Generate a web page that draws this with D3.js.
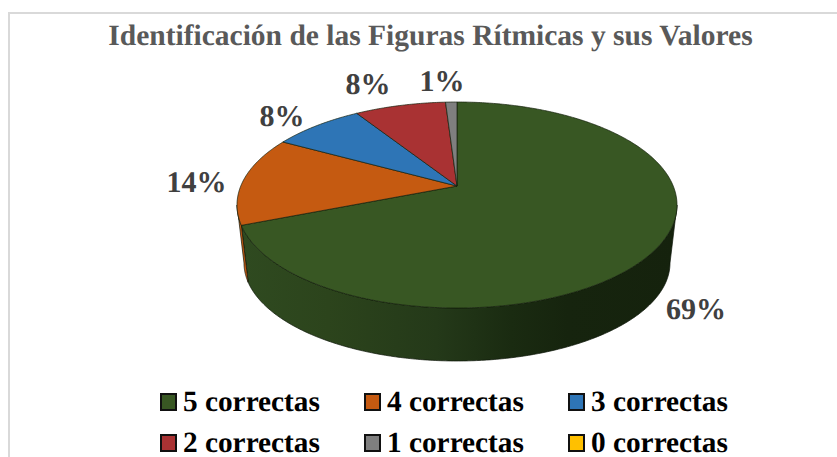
<!DOCTYPE html>
<html>
<head>
<meta charset="utf-8">
<script src="https://cdnjs.cloudflare.com/ajax/libs/d3/7.8.5/d3.min.js"></script>
<style>
html,body{margin:0;padding:0;background:#fff;overflow:hidden}
svg{display:block}
text{font-family:"Liberation Serif",serif;font-weight:bold;text-rendering:geometricPrecision}
</style>
</head>
<body>
<svg id="c" width="837" height="457"></svg>
<script>
const categories = ["5 correctas","4 correctas","3 correctas","2 correctas","1 correctas","0 correctas"];
const values = [69,14,8,8,1,0];
const labels = ["69%","14%","8%","8%","1%"];
const colors = ["#385723","#c55a11","#2e75b6","#a93233","#7f7f7f","#ffc000"];
const titleText = "Identificación de las Figuras Rítmicas y sus Valores";

const svg = d3.select("#c");
const defs = svg.append("defs");

// chart frame
svg.append("path").attr("d","M9 457V13H837").attr("fill","none").attr("stroke","#d9d9d9").attr("stroke-width",2);

svg.append("text").attr("x",430.5).attr("y",45).attr("text-anchor","middle")
  .attr("font-size",29.5).attr("fill","#595959").text(titleText);

// perspective projection of the pie's circle on to the picture plane
const k = 0.184;
const cx = 457;
const topEll = {cy:205, rx:220, ry:103};
const botEll = {cy:263, rx:213, ry:98};
function project(a, e){
  const u = Math.sin(a), v = Math.cos(a), den = 1 + k*v;
  return [cx + e.rx*u*Math.sqrt(1-k*k)/den, e.cy - e.ry*(v+k)/den];
}
const hub = [cx, topEll.cy - topEll.ry*k];
const line = d3.line();
function rim(a0,a1,e){
  const n = Math.max(2, Math.ceil(Math.abs(a1-a0)/0.01));
  return d3.range(n+1).map(i=>project(a0+(a1-a0)*i/n,e));
}
const pie = d3.pie().sort(null).value(d=>d);
const arcs = pie(values);

// side wall: the part of the rim in front of the silhouette points
const silR = Math.acos(-k), silL = 2*Math.PI - silR;
const g = svg.append("g");

const grad = defs.append("linearGradient").attr("id","wall").attr("gradientUnits","userSpaceOnUse")
  .attr("x1",241).attr("x2",677).attr("y1",0).attr("y2",0);
[[0,"#2f4a20"],[0.2,"#2c441c"],[0.45,"#243919"],[0.62,"#1a2b11"],[0.75,"#16240e"],[1,"#15220d"]].forEach(s=>
  grad.append("stop").attr("offset",s[0]).attr("stop-color",s[1]));

arcs.forEach((d,i)=>{
  const a0 = Math.max(d.startAngle, silR), a1 = Math.min(d.endAngle, silL);
  if(a1<=a0) return;
  const pts = rim(a0,a1,topEll).concat(rim(a1,a0,botEll));
  g.append("path").attr("d",line(pts)+"Z")
    .attr("fill", i===0 ? "url(#wall)" : colors[i])
    .attr("stroke","#0d1508").attr("stroke-width",0.7).attr("stroke-linejoin","round");
});

// top face
arcs.forEach((d,i)=>{
  if(d.endAngle-d.startAngle<=0) return;
  const pts = [hub].concat(rim(d.startAngle,d.endAngle,topEll));
  g.append("path").attr("d",line(pts)+"Z").attr("fill",colors[i])
    .attr("stroke","#14200c").attr("stroke-width",0.7).attr("stroke-linejoin","round");
});

// data labels
const labelPos = [[696,318.5],[196.5,192],[282,126],[368,93.5],[442,91]];
labels.forEach((t,i)=>{
  svg.append("text").attr("x",labelPos[i][0]).attr("y",labelPos[i][1]).attr("text-anchor","middle")
    .attr("font-size",30).attr("fill","#404040").text(t);
});

// legend
const lx = d3.scalePoint().domain([0,1,2]).range([160,568]);
const ly = d3.scalePoint().domain([0,1]).range([402,443]);
categories.forEach((c,i)=>{
  const x = lx(i%3), y = ly(Math.floor(i/3));
  svg.append("rect").attr("x",x+1).attr("y",y-8).attr("width",15).attr("height",16)
    .attr("fill",colors[i]).attr("stroke","#111").attr("stroke-width",2);
  svg.append("text").attr("x",x+23).attr("y",y+9).attr("font-size",29.3).attr("fill","#000").text(c);
});
</script>
</body>
</html>
